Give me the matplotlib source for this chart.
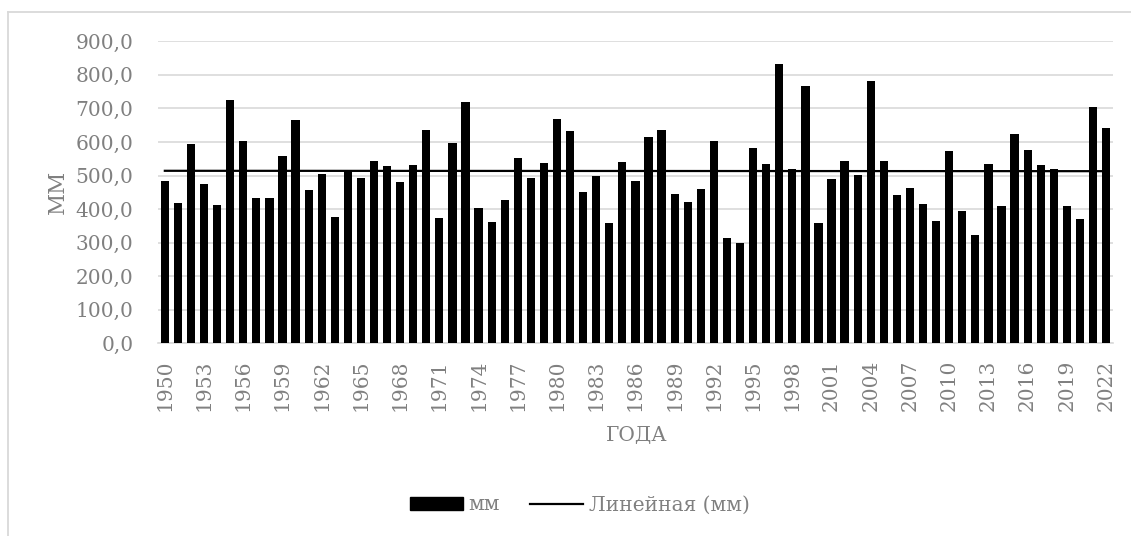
import matplotlib
matplotlib.use("Agg")
import matplotlib.pyplot as plt
import numpy as np
from matplotlib.lines import Line2D

# annual precipitation, mm
years = list(range(1950, 2023))
precip = [
    484, 417, 595, 476, 413, 725, 602, 433, 433, 558,
    664, 456, 504, 377, 514, 493, 542, 527, 480, 532,
    636, 374, 596, 720, 403, 360, 428, 551, 493, 536,
    667, 632, 450, 499, 358, 539, 484, 614, 635, 446,
    420, 460, 604, 315, 298, 583, 533, 832, 518, 767,
    359, 490, 542, 503, 782, 543, 443, 464, 414, 364,
    574, 395, 323, 534, 408, 624, 577, 531, 518, 409,
    369, 704, 641,
]
y_ticks = [0, 100, 200, 300, 400, 500, 600, 700, 800, 900]

GREY = "#808080"
GRID = "#d9d9d9"
FONT = "DejaVu Serif"
FS = 14.5

plt.rcParams["font.family"] = [FONT]

fig = plt.figure(figsize=(11.31, 5.36), dpi=100)
ax = fig.add_axes([158.3 / 1131, 1 - 343.3 / 536, (1112.6 - 158.3) / 1131, (343.3 - 41.3) / 536])

x = np.arange(len(years))
ax.bar(x, precip, width=0.63, color="black", zorder=3)

# linear trend
coef = np.polyfit(x, precip, 1)
ax.plot(x, np.polyval(coef, x), color="black", linewidth=1.6, zorder=4)

ax.set_xlim(-0.5, len(years) - 0.5)
ax.set_ylim(0, 900)
ax.set_yticks(y_ticks)
ax.set_yticklabels([f"{v:.1f}".replace(".", ",") for v in y_ticks], fontsize=FS, color=GREY)
ax.yaxis.grid(True, color=GRID, linewidth=1.2, zorder=0)
ax.set_axisbelow(True)

tick_pos = x[::3]
ax.set_xticks(tick_pos)
ax.set_xticklabels([str(years[i]) for i in tick_pos], rotation=90, fontsize=FS, color=GREY)
ax.tick_params(axis="both", length=0)
ax.tick_params(axis="y", pad=18)
ax.tick_params(axis="x", pad=12)

for side in ["top", "right", "left"]:
    ax.spines[side].set_visible(False)
ax.spines["bottom"].set_color(GRID)
ax.spines["bottom"].set_linewidth(1.2)

fig.text(58 / 1131, 1 - 192 / 536, "ММ", rotation=90, ha="center", va="center",
         fontsize=FS + 1, color=GREY)
fig.text(637 / 1131, 1 - 436 / 536, "ГОДА", ha="center", va="center",
         fontsize=FS, color=GREY)

handles = [
    plt.Rectangle((0, 0), 1, 1, color="black"),
    Line2D([0], [0], color="black", linewidth=1.6),
]
leg = fig.legend(handles, ["мм", "Линейная (мм)"], loc="center",
                 bbox_to_anchor=(580 / 1131, 1 - 505 / 536), ncol=2, frameon=False,
                 fontsize=FS, handlelength=2.6, handleheight=0.65,
                 handletextpad=0.3, columnspacing=1.5)
for t in leg.get_texts():
    t.set_color(GREY)

# chart border (cropped on the right and bottom)
fig.add_artist(Line2D([8 / 1131, 8 / 1131], [0, 1 - 12 / 536], transform=fig.transFigure,
                      color=GRID, linewidth=1.3))
fig.add_artist(Line2D([8 / 1131, 1], [1 - 12 / 536, 1 - 12 / 536], transform=fig.transFigure,
                      color=GRID, linewidth=1.3))

fig.savefig("out.png", dpi=100)
